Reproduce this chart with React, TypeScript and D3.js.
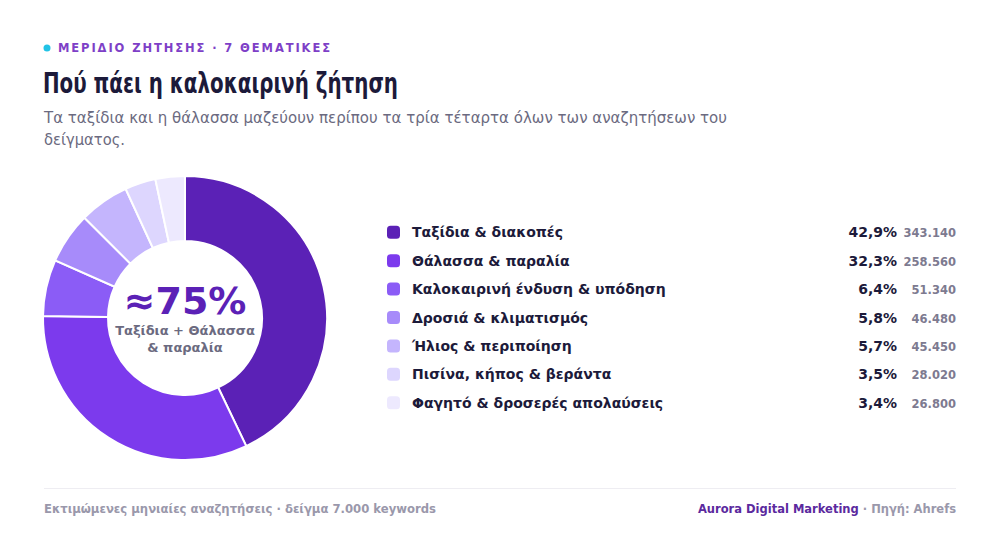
import React from "react";
import * as d3 from "d3";

const categories = [
  "Ταξίδια & διακοπές",
  "Θάλασσα & παραλία",
  "Καλοκαιρινή ένδυση & υπόδηση",
  "Δροσιά & κλιματισμός",
  "Ήλιος & περιποίηση",
  "Πισίνα, κήπος & βεράντα",
  "Φαγητό & δροσερές απολαύσεις",
];
const searches = [343140, 258560, 51340, 46480, 45450, 28020, 26800];
const shareLabels = ["42,9%", "32,3%", "6,4%", "5,8%", "5,7%", "3,5%", "3,4%"];
const countLabels = ["343.140", "258.560", "51.340", "46.480", "45.450", "28.020", "26.800"];
const colors = ["#5b21b6", "#7c3aed", "#8b5cf6", "#a78bfa", "#c4b5fd", "#ddd6fe", "#ede9fe"];

const FONT = "DejaVu Sans, sans-serif";

export default function App() {
  const W = 1000, H = 551;
  const cx = 185, cy = 318, rOuter = 142, rInner = 77;
  const pie = d3.pie<number>().sort(null).value((d) => d)(searches);
  const arc = d3.arc<d3.PieArcDatum<number>>().innerRadius(rInner).outerRadius(rOuter);

  const legendY = d3.scaleBand<number>().domain(d3.range(categories.length)).range([218, 417]);

  return (
    <svg width={W} height={H} style={{ position: "absolute", left: 0, top: 0, background: "#fff" }} fontFamily={FONT}>
      <rect width={W} height={H} fill="#fff" />
      {/* header */}
      <circle cx={47} cy={48} r={3.5} fill="#22c3e6" />
      <text x={58} y={52} fontSize={11.5} fontWeight="bold" fill="#7e3fc7" letterSpacing={1.9}>
        ΜΕΡΙΔΙΟ ΖΗΤΗΣΗΣ · 7 ΘΕΜΑΤΙΚΕΣ
      </text>
      <text x={43} y={93} fontSize={29} fontWeight="bold" fill="#1c1a3a" textLength={355} lengthAdjust="spacingAndGlyphs">
        Πού πάει η καλοκαιρινή ζήτηση
      </text>
      <text x={44} y={123} fontSize={15} fill="#6b6a80" textLength={683} lengthAdjust="spacingAndGlyphs">
        Τα ταξίδια και η θάλασσα μαζεύουν περίπου τα τρία τέταρτα όλων των αναζητήσεων του
      </text>
      <text x={44} y={145} fontSize={15} fill="#6b6a80" textLength={81} lengthAdjust="spacingAndGlyphs">
        δείγματος.
      </text>

      {/* donut */}
      <g transform={`translate(${cx},${cy})`}>
        {pie.map((p, i) => (
          <path key={i} d={arc(p) || ""} fill={colors[i]} stroke="#fff" strokeWidth={2} />
        ))}
        <text x={0} y={-4} textAnchor="middle" fontSize={38} fontWeight="bold" fill="#5b21b6">≈75%</text>
        <text x={0} y={17} textAnchor="middle" fontSize={13} fontWeight="bold" fill="#6b6a80">Ταξίδια + Θάλασσα</text>
        <text x={0} y={34} textAnchor="middle" fontSize={13} fontWeight="bold" fill="#6b6a80">& παραλία</text>
      </g>

      {/* legend */}
      {categories.map((c, i) => {
        const y = (legendY(i) || 0) + legendY.bandwidth() / 2;
        return (
          <g key={c}>
            <rect x={387} y={y - 6.5} width={13} height={13} rx={3.5} fill={colors[i]} />
            <text x={412} y={y + 5} fontSize={14} fontWeight="bold" fill="#1c1a3a">{c}</text>
            <text x={897} y={y + 5} textAnchor="end" fontSize={14} fontWeight="bold" fill="#1c1a3a">{shareLabels[i]}</text>
            <text x={956} y={y + 5} textAnchor="end" fontSize={11.5} fontWeight="bold" fill="#7d7a90">{countLabels[i]}</text>
          </g>
        );
      })}

      {/* footer */}
      <line x1={44} x2={956} y1={488.5} y2={488.5} stroke="#eeedf2" strokeWidth={1} />
      <text x={44} y={513} fontSize={11.5} fontWeight="bold" fill="#9a98ab" textLength={392} lengthAdjust="spacingAndGlyphs">
        Εκτιμώμενες μηνιαίες αναζητήσεις · δείγμα 7.000 keywords
      </text>
      <text x={956} y={513} textAnchor="end" fontSize={11.5} fontWeight="bold">
        <tspan fill="#5b2a9e">Aurora Digital Marketing</tspan>
        <tspan fill="#9a98ab"> · Πηγή: Ahrefs</tspan>
      </text>
    </svg>
  );
}
